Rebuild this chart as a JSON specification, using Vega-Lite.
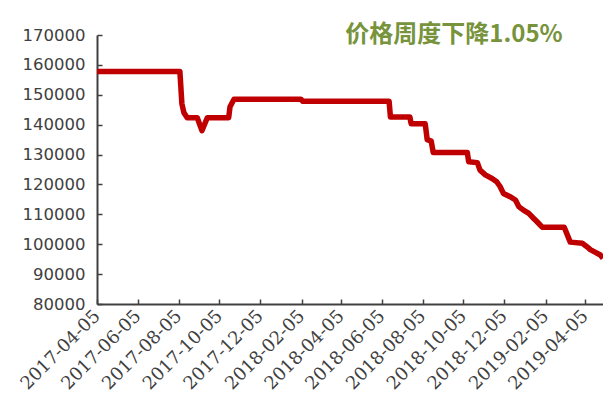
{
  "$schema": "https://vega.github.io/schema/vega-lite/v6.json",
  "width": 506,
  "height": 269,
  "autosize": "none",
  "padding": {"left": 97, "top": 35, "right": 0, "bottom": 96},
  "background": "white",
  "config": {"view": {"stroke": null}},
  "title": {
    "text": "价格周度下降1.05%",
    "font": "Noto Sans CJK SC",
    "fontSize": 24,
    "fontWeight": "bold",
    "color": "#77933C",
    "anchor": "middle",
    "frame": "group",
    "dx": 104,
    "dy": 32,
    "offset": 0,
    "baseline": "middle"
  },
  "data": {
    "values": [
      {"date": "2017-04-05", "price": 157800},
      {"date": "2017-08-07", "price": 157800},
      {"date": "2017-08-10", "price": 147000},
      {"date": "2017-08-13", "price": 144000},
      {"date": "2017-08-18", "price": 142300},
      {"date": "2017-09-02", "price": 142300},
      {"date": "2017-09-09", "price": 138000},
      {"date": "2017-09-17", "price": 142300},
      {"date": "2017-10-19", "price": 142300},
      {"date": "2017-10-21", "price": 146000},
      {"date": "2017-10-27", "price": 148500},
      {"date": "2018-02-04", "price": 148500},
      {"date": "2018-02-07", "price": 147800},
      {"date": "2018-06-16", "price": 147800},
      {"date": "2018-06-18", "price": 142600},
      {"date": "2018-07-17", "price": 142600},
      {"date": "2018-07-19", "price": 140300},
      {"date": "2018-08-09", "price": 140300},
      {"date": "2018-08-12", "price": 135000},
      {"date": "2018-08-18", "price": 134500},
      {"date": "2018-08-21", "price": 130700},
      {"date": "2018-10-11", "price": 130700},
      {"date": "2018-10-13", "price": 127600},
      {"date": "2018-10-26", "price": 127300},
      {"date": "2018-10-30", "price": 124800},
      {"date": "2018-11-07", "price": 123200},
      {"date": "2018-11-17", "price": 122000},
      {"date": "2018-11-24", "price": 120900},
      {"date": "2018-11-29", "price": 119300},
      {"date": "2018-12-04", "price": 117000},
      {"date": "2018-12-14", "price": 115900},
      {"date": "2018-12-22", "price": 114800},
      {"date": "2018-12-27", "price": 112600},
      {"date": "2019-01-03", "price": 111400},
      {"date": "2019-01-11", "price": 110300},
      {"date": "2019-01-18", "price": 108700},
      {"date": "2019-01-23", "price": 107600},
      {"date": "2019-01-31", "price": 105700},
      {"date": "2019-03-05", "price": 105700},
      {"date": "2019-03-14", "price": 100700},
      {"date": "2019-04-01", "price": 100300},
      {"date": "2019-04-09", "price": 99000},
      {"date": "2019-04-13", "price": 98200},
      {"date": "2019-04-28", "price": 96400},
      {"date": "2019-05-02", "price": 95300}
    ]
  },
  "mark": {
    "type": "line",
    "color": "#C00000",
    "strokeWidth": 5.5,
    "strokeJoin": "round",
    "clip": true
  },
  "encoding": {
    "x": {
      "field": "date",
      "type": "temporal",
      "scale": {
        "type": "utc",
        "domain": [
          {"year": 2017, "month": 4, "date": 5, "utc": true},
          {"year": 2019, "month": 5, "date": 2, "utc": true}
        ]
      },
      "axis": {
        "title": null,
        "values": [
          {"year": 2017, "month": 4, "date": 5, "utc": true},
          {"year": 2017, "month": 6, "date": 5, "utc": true},
          {"year": 2017, "month": 8, "date": 5, "utc": true},
          {"year": 2017, "month": 10, "date": 5, "utc": true},
          {"year": 2017, "month": 12, "date": 5, "utc": true},
          {"year": 2018, "month": 2, "date": 5, "utc": true},
          {"year": 2018, "month": 4, "date": 5, "utc": true},
          {"year": 2018, "month": 6, "date": 5, "utc": true},
          {"year": 2018, "month": 8, "date": 5, "utc": true},
          {"year": 2018, "month": 10, "date": 5, "utc": true},
          {"year": 2018, "month": 12, "date": 5, "utc": true},
          {"year": 2019, "month": 2, "date": 5, "utc": true},
          {"year": 2019, "month": 4, "date": 5, "utc": true}
        ],
        "format": "%Y-%m-%d",
        "grid": false,
        "domainColor": "#404040",
        "domainWidth": 2,
        "tickColor": "#404040",
        "tickWidth": 1.5,
        "tickSize": -5,
        "labelAngle": -45,
        "labelAlign": "right",
        "labelBaseline": "middle",
        "labelPadding": 14,
        "labelOverlap": false,
        "labelFlush": false,
        "labelBound": false,
        "labelFont": "DejaVu Serif",
        "labelFontSize": 18,
        "labelColor": "#404040"
      }
    },
    "y": {
      "field": "price",
      "type": "quantitative",
      "scale": {"domain": [80000, 170000], "nice": false, "zero": false},
      "axis": {
        "title": null,
        "values": [80000, 90000, 100000, 110000, 120000, 130000, 140000, 150000, 160000, 170000],
        "format": "d",
        "grid": false,
        "domainColor": "#404040",
        "domainWidth": 2,
        "tickColor": "#404040",
        "tickWidth": 1.5,
        "tickSize": -5,
        "labelPadding": 17,
        "labelOverlap": false,
        "labelFlush": false,
        "labelFont": "DejaVu Sans",
        "labelFontSize": 16.5,
        "labelColor": "#404040"
      }
    }
  }
}
